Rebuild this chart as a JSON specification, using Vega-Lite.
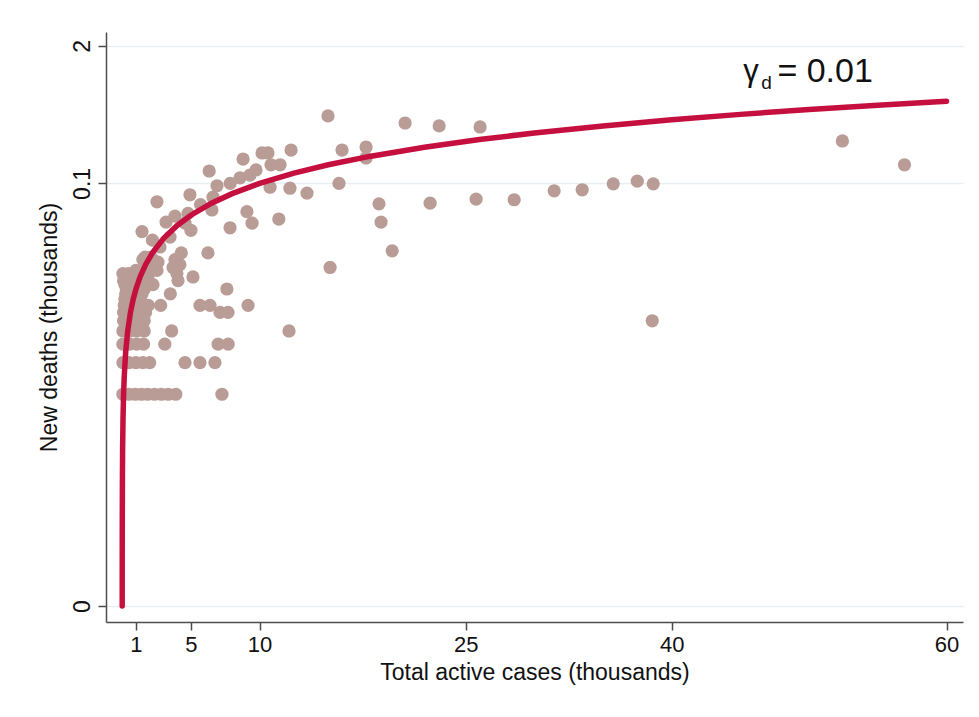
{
  "$schema": "https://vega.github.io/schema/vega-lite/v6.json",
  "width": 857,
  "height": 590,
  "autosize": "none",
  "padding": {"left": 106, "top": 32, "right": 16, "bottom": 95},
  "background": "white",
  "config": {"view": {"stroke": null}, "font": "Liberation Sans"},
  "datasets": {
    "obs": [
      {"cases":0.05,"deaths":0.001},{"cases":0.5,"deaths":0.001},{"cases":0.95,"deaths":0.001},{"cases":1.4,"deaths":0.001},{"cases":1.85,"deaths":0.001},{"cases":2.35,"deaths":0.001},{"cases":2.85,"deaths":0.001},{"cases":3.35,"deaths":0.001},{"cases":3.9,"deaths":0.001},{"cases":7.26,"deaths":0.001},
      {"cases":0.05,"deaths":0.002},{"cases":0.5,"deaths":0.002},{"cases":1.0,"deaths":0.002},{"cases":1.5,"deaths":0.002},{"cases":2.0,"deaths":0.002},{"cases":4.57,"deaths":0.002},{"cases":5.66,"deaths":0.002},{"cases":6.75,"deaths":0.002},
      {"cases":0.05,"deaths":0.003},{"cases":0.55,"deaths":0.003},{"cases":1.05,"deaths":0.003},{"cases":1.55,"deaths":0.003},{"cases":3.1,"deaths":0.003},{"cases":6.98,"deaths":0.003},{"cases":7.71,"deaths":0.003},
      {"cases":0.05,"deaths":0.004},{"cases":0.55,"deaths":0.004},{"cases":1.05,"deaths":0.004},{"cases":1.6,"deaths":0.004},{"cases":3.6,"deaths":0.004},{"cases":12.14,"deaths":0.004},
      {"cases":0.1,"deaths":0.005},{"cases":0.6,"deaths":0.005},{"cases":1.1,"deaths":0.005},{"cases":1.6,"deaths":0.005},{"cases":38.58,"deaths":0.005},
      {"cases":0.1,"deaths":0.006},{"cases":0.6,"deaths":0.006},{"cases":1.15,"deaths":0.006},{"cases":1.7,"deaths":0.006},{"cases":7.12,"deaths":0.006},{"cases":7.7,"deaths":0.006},
      {"cases":0.15,"deaths":0.007},{"cases":0.7,"deaths":0.007},{"cases":1.2,"deaths":0.007},{"cases":1.9,"deaths":0.007},{"cases":2.8,"deaths":0.007},{"cases":5.66,"deaths":0.007},{"cases":6.39,"deaths":0.007},{"cases":9.16,"deaths":0.007},
      {"cases":0.2,"deaths":0.008},{"cases":0.75,"deaths":0.008},{"cases":1.3,"deaths":0.008},
      {"cases":0.25,"deaths":0.009},{"cases":0.85,"deaths":0.009},{"cases":1.45,"deaths":0.009},{"cases":3.5,"deaths":0.009},
      {"cases":0.3,"deaths":0.010},{"cases":0.9,"deaths":0.010},{"cases":1.6,"deaths":0.010},{"cases":7.62,"deaths":0.010},
      {"cases":1.36,"deaths":0.011},{"cases":2.24,"deaths":0.011},{"cases":0.2,"deaths":0.011},
      {"cases":0.4,"deaths":0.012},{"cases":1.1,"deaths":0.012},{"cases":4.06,"deaths":0.012},{"cases":0.1,"deaths":0.012},
      {"cases":1.87,"deaths":0.013},{"cases":5.15,"deaths":0.013},{"cases":0.7,"deaths":0.013},
      {"cases":0.05,"deaths":0.014},{"cases":3.98,"deaths":0.014},{"cases":0.45,"deaths":0.014},
      {"cases":2.53,"deaths":0.015},{"cases":1.0,"deaths":0.015},
      {"cases":1.8,"deaths":0.016},{"cases":3.7,"deaths":0.016},{"cases":15.13,"deaths":0.016},
      {"cases":4.2,"deaths":0.017},
      {"cases":2.6,"deaths":0.018},
      {"cases":1.5,"deaths":0.019},{"cases":3.84,"deaths":0.019},{"cases":2.24,"deaths":0.019},
      {"cases":2.09,"deaths":0.020},{"cases":1.66,"deaths":0.020},
      {"cases":4.3,"deaths":0.022},{"cases":6.24,"deaths":0.022},
      {"cases":19.65,"deaths":0.023},
      {"cases":2.75,"deaths":0.025},
      {"cases":2.2,"deaths":0.029},
      {"cases":3.48,"deaths":0.031},
      {"cases":1.44,"deaths":0.035},
      {"cases":5.0,"deaths":0.036},
      {"cases":7.85,"deaths":0.038},
      {"cases":4.57,"deaths":0.042},{"cases":9.45,"deaths":0.042},
      {"cases":18.84,"deaths":0.043},{"cases":3.19,"deaths":0.043},
      {"cases":11.4,"deaths":0.046},
      {"cases":3.84,"deaths":0.049},
      {"cases":4.79,"deaths":0.052},
      {"cases":9.08,"deaths":0.054},
      {"cases":6.53,"deaths":0.056},
      {"cases":5.7,"deaths":0.063},
      {"cases":18.69,"deaths":0.064},
      {"cases":22.41,"deaths":0.065},
      {"cases":2.53,"deaths":0.067},
      {"cases":28.53,"deaths":0.070},
      {"cases":25.76,"deaths":0.071},
      {"cases":6.61,"deaths":0.074},
      {"cases":4.93,"deaths":0.078},
      {"cases":13.45,"deaths":0.081},
      {"cases":31.44,"deaths":0.085},
      {"cases":33.48,"deaths":0.087},
      {"cases":12.21,"deaths":0.090},
      {"cases":10.76,"deaths":0.092},
      {"cases":6.9,"deaths":0.095},
      {"cases":35.74,"deaths":0.099},{"cases":38.65,"deaths":0.099},
      {"cases":7.86,"deaths":0.100},{"cases":15.78,"deaths":0.100},
      {"cases":37.49,"deaths":0.105},
      {"cases":8.58,"deaths":0.113},
      {"cases":9.3,"deaths":0.120},
      {"cases":6.33,"deaths":0.131},
      {"cases":9.74,"deaths":0.134},
      {"cases":10.83,"deaths":0.150},{"cases":11.49,"deaths":0.150},{"cases":56.94,"deaths":0.150},
      {"cases":8.8,"deaths":0.170},
      {"cases":17.75,"deaths":0.174},
      {"cases":10.18,"deaths":0.194},{"cases":10.61,"deaths":0.194},
      {"cases":12.29,"deaths":0.207},{"cases":16.0,"deaths":0.207},
      {"cases":17.75,"deaths":0.221},
      {"cases":52.42,"deaths":0.252},
      {"cases":26.05,"deaths":0.342},
      {"cases":23.07,"deaths":0.350},
      {"cases":20.59,"deaths":0.373},
      {"cases":14.98,"deaths":0.435}
    ],
    "fit": [
      {"cases":0,"deaths":0},{"cases":0.0005,"deaths":0.000005},{"cases":0.001,"deaths":0.00001},{"cases":0.002,"deaths":0.00002},{"cases":0.004,"deaths":0.00004},{"cases":0.008,"deaths":0.00008},{"cases":0.015,"deaths":0.00015},{"cases":0.03,"deaths":0.0003},{"cases":0.06,"deaths":0.0006},{"cases":0.1,"deaths":0.001},{"cases":0.15,"deaths":0.0015},{"cases":0.25,"deaths":0.0025},{"cases":0.4,"deaths":0.004},{"cases":0.6,"deaths":0.006},{"cases":0.8,"deaths":0.008},{"cases":1,"deaths":0.01},{"cases":1.3,"deaths":0.013},{"cases":1.7,"deaths":0.017},{"cases":2.2,"deaths":0.022},{"cases":3,"deaths":0.03},{"cases":4,"deaths":0.04},{"cases":5,"deaths":0.05},{"cases":6.5,"deaths":0.065},{"cases":8,"deaths":0.08},{"cases":10,"deaths":0.1},{"cases":12.5,"deaths":0.125},{"cases":15,"deaths":0.15},{"cases":18,"deaths":0.18},{"cases":22,"deaths":0.22},{"cases":26,"deaths":0.26},{"cases":30,"deaths":0.3},{"cases":35,"deaths":0.35},{"cases":40,"deaths":0.4},{"cases":45,"deaths":0.45},{"cases":50,"deaths":0.5},{"cases":55,"deaths":0.55},{"cases":60,"deaths":0.6}
    ]
  },
  "layer": [
    {
      "data": {"name": "obs"},
      "mark": {"type": "circle", "size": 175, "color": "#b99c96", "opacity": 1},
      "encoding": {
        "x": {
          "field": "cases", "type": "quantitative",
          "scale": {"domain": [-1.18, 61.2], "nice": false, "zero": false},
          "axis": {
            "values": [1, 5, 10, 25, 40, 60], "grid": false,
            "domainColor": "#4d4d4d", "domainWidth": 1.5,
            "tickColor": "#4d4d4d", "tickWidth": 1.5, "tickSize": 8,
            "labelFontSize": 22, "labelColor": "#111111", "labelPadding": 4,
            "title": "Total active cases (thousands)", "titleFontSize": 23,
            "titleFontWeight": "normal", "titleColor": "#111111", "titlePadding": 6
          }
        },
        "y": {
          "field": "deaths", "type": "quantitative",
          "scale": {"type": "symlog", "constant": 0.00001, "domain": [-0.00000417, 2.71], "nice": false, "zero": false},
          "axis": {
            "values": [0, 0.1, 2], "format": "~g", "grid": true,
            "gridColor": "#e8eef1", "gridWidth": 1.5,
            "domainColor": "#4d4d4d", "domainWidth": 1.5,
            "tickColor": "#4d4d4d", "tickWidth": 1.5, "tickSize": 8,
            "labelFontSize": 23, "labelColor": "#111111", "labelPadding": 4,
            "labelAngle": -90, "labelAlign": "center", "labelBaseline": "bottom",
            "title": "New deaths (thousands)", "titleFontSize": 23,
            "titleFontWeight": "normal", "titleColor": "#111111", "titlePadding": 10
          }
        }
      }
    },
    {
      "data": {"name": "fit"},
      "mark": {"type": "line", "color": "#c5103f", "strokeWidth": 5.5, "strokeCap": "round"},
      "encoding": {
        "x": {"field": "cases", "type": "quantitative"},
        "y": {"field": "deaths", "type": "quantitative"}
      }
    },
    {
      "data": {"values": [{}]},
      "mark": {"type": "text", "text": "γ", "align": "left", "baseline": "alphabetic", "fontSize": 31, "color": "#111111"},
      "encoding": {"x": {"datum": 45.21, "type": "quantitative"}, "y": {"datum": 0.9325, "type": "quantitative"}}
    },
    {
      "data": {"values": [{}]},
      "mark": {"type": "text", "text": "d", "align": "left", "baseline": "alphabetic", "fontSize": 19, "color": "#111111"},
      "encoding": {"x": {"datum": 46.51, "type": "quantitative"}, "y": {"datum": 0.783, "type": "quantitative"}}
    },
    {
      "data": {"values": [{}]},
      "mark": {"type": "text", "text": "= 0.01", "align": "left", "baseline": "alphabetic", "fontSize": 34, "color": "#111111"},
      "encoding": {"x": {"datum": 47.69, "type": "quantitative"}, "y": {"datum": 0.912, "type": "quantitative"}}
    }
  ]
}
